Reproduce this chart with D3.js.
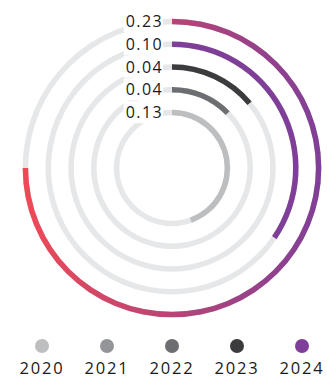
<!DOCTYPE html>
<html>
    <head>
        <script src="https://d3js.org/d3.v7.min.js"></script>
        <style>
            body { margin: 0; background: #fff; }
        </style>
    </head>
    <body>
        <svg width="327" height="378" id="mainSvg"></svg>
        <script>
            // rings, inner to outer
            const ringNames = ["2020", "2022", "2023", "2024", "total"]
            const ringValues = [0.134, 0.038, 0.042, 0.104, 0.226]
            const ringColors = ["#bcbec0", "#6d6e71", "#3c3c3e", "#7f3f98", "url(#ringGrad)"]

            const legendYears = ["2020", "2021", "2022", "2023", "2024"]
            const legendColors = ["#bcbec0", "#939598", "#6d6e71", "#3c3c3e", "#7f3f98"]

            const svg = d3.select("#mainSvg")
            const cx = 172, cy = 168

            // gradient on outer ring: purple (right) -> red (left), in the ring group's coords
            const grad = svg.append("defs").append("linearGradient")
                .attr("id", "ringGrad")
                .attr("gradientUnits", "userSpaceOnUse")
                .attr("x1", 150).attr("y1", 0)
                .attr("x2", -150).attr("y2", 0)
            grad.append("stop").attr("offset", "0%").attr("stop-color", "#7f3f98")
            grad.append("stop").attr("offset", "100%").attr("stop-color", "#ef4a55")

            const rScale = d3.scaleBand()
                .domain(ringNames)
                .range([44, 158])
            const rMid = d => rScale(d) + rScale.bandwidth() / 2

            const angle = d3.scaleLinear()
                .domain([0, 0.226])
                .range([0, 1.5 * Math.PI])

            const sw = 5.5
            const g = svg.append("g").attr("transform", `translate(${cx},${cy})`)

            const arc = d3.arc()
                .innerRadius(d => rMid(d.name) - sw / 2)
                .outerRadius(d => rMid(d.name) + sw / 2)
                .startAngle(0)

            const rows = ringNames.map((n, i) => ({name: n, value: ringValues[i], color: ringColors[i]}))

            // tracks
            g.selectAll(".track").data(rows).enter().append("path")
                .attr("class", "track")
                .attr("fill", "#e6e7e8")
                .attr("d", d => arc.endAngle(2 * Math.PI)(d))

            // value arcs
            g.selectAll(".bar").data(rows).enter().append("path")
                .attr("class", "bar")
                .attr("fill", d => d.color)
                .attr("d", d => arc.endAngle(angle(d.value))(d))

            // labels with white background
            const fmt = d3.format(".2f")
            const lab = g.selectAll(".lab").data(rows).enter().append("g")
                .attr("class", "lab")
            lab.append("rect").attr("fill", "#fff")
            lab.append("text")
                .attr("x", -9)
                .attr("y", d => -rMid(d.name))
                .attr("dy", "0.35em")
                .attr("text-anchor", "end")
                .attr("font-family", "Open Sans")
                .attr("font-size", 16)
                .attr("letter-spacing", 1.4)
                .attr("fill", "#1a1a1a")
                .text(d => fmt(d.value))
            lab.each(function() {
                const t = d3.select(this).select("text")
                const b = t.node().getBBox()
                d3.select(this).select("rect")
                    .attr("x", b.x - 2).attr("y", b.y)
                    .attr("width", b.width + 2).attr("height", b.height)
            })

            // legend
            const lx = d3.scalePoint().domain(legendYears).range([42, 302])
            const leg = svg.append("g").selectAll("g").data(legendYears).enter().append("g")
                .attr("transform", d => `translate(${lx(d)},0)`)
            leg.append("circle")
                .attr("cy", 346)
                .attr("r", 7)
                .attr("fill", (d, i) => legendColors[i])
            leg.append("text")
                .attr("y", 374)
                .attr("text-anchor", "middle")
                .attr("font-family", "Open Sans")
                .attr("font-size", 16.5)
                .attr("letter-spacing", 1.8)
                .attr("fill", "#1a1a1a")
                .text(d => d)
        </script>
    </body>
</html>
